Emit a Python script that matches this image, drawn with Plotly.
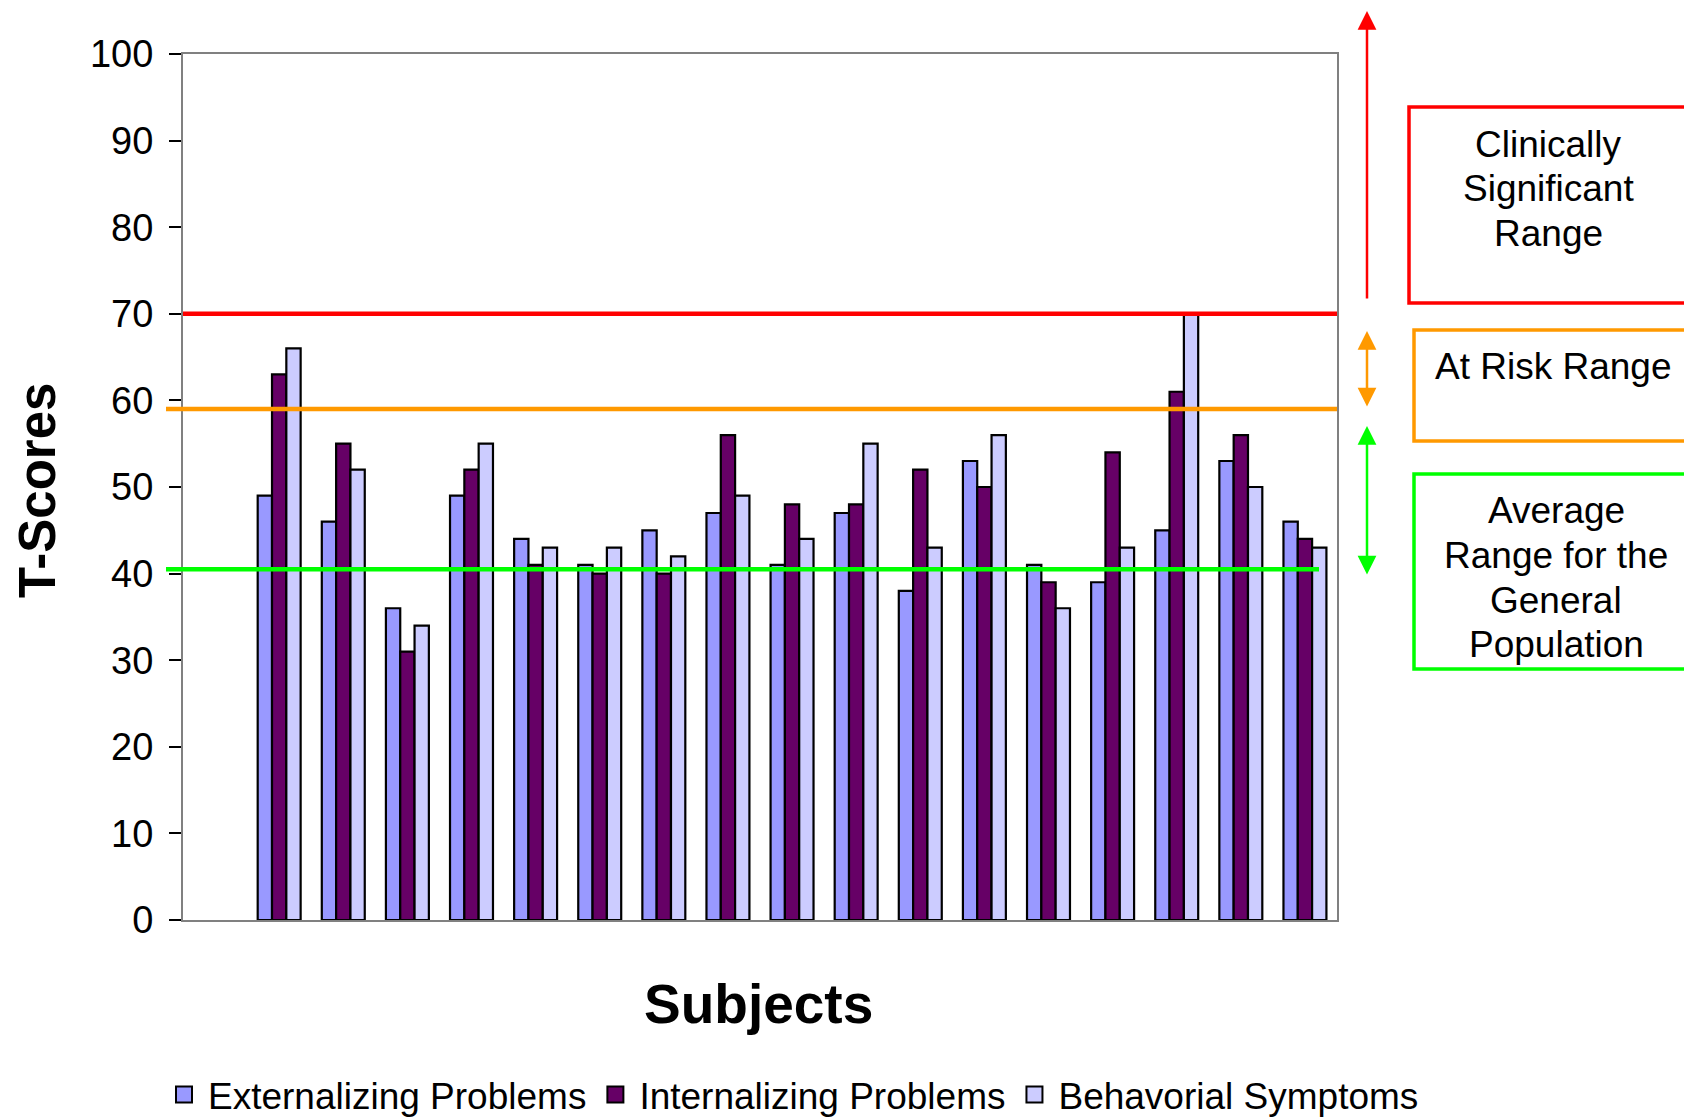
import plotly.graph_objects as go

# ---- data -------------------------------------------------------------
subjects = [f"S{i}" for i in range(1, 18)]
externalizing = [49, 46, 36, 49, 44, 41, 45, 47, 41, 47, 38, 53, 41, 39, 45, 53, 46]
internalizing = [63, 55, 31, 52, 41, 40, 40, 56, 48, 48, 52, 50, 39, 54, 61, 56, 44]
behavioral = [66, 52, 34, 55, 43, 43, 42, 49, 44, 55, 43, 56, 36, 43, 70, 50, 43]

series_names = ["Externalizing Problems", "Internalizing Problems", "Behavorial Symptoms"]
series_colors = ["#9999FF", "#660066", "#CCCCFF"]

clinical_cut = 70
at_risk_cut = 59
average_cut = 40.5
y_ticks = list(range(0, 101, 10))

# ---- page geometry (pixels) -------------------------------------------
WIDTH, HEIGHT = 1684, 1117
L, R, T, B = 183, 1337, 54, 920
PW, PH = R - L, B - T


def px_x(x):
    return (x - L) / PW


def px_y(y):
    return (B - y) / PH


FONT = "Arial, 'Liberation Sans', sans-serif"

fig = go.Figure()
for name, vals, col in zip(series_names, [externalizing, internalizing, behavioral], series_colors):
    fig.add_trace(go.Bar(
        x=subjects, y=vals, name=name, legendgroup=name, showlegend=False,
        marker=dict(color=col, line=dict(color="black", width=2.2)),
    ))
# legend entries with larger square swatches
for name, col in zip(series_names, series_colors):
    fig.add_trace(go.Scatter(
        x=[None], y=[None], mode="markers", name=name, legendgroup=name,
        marker=dict(symbol="square", size=16, color=col,
                    line=dict(color="black", width=2)),
    ))

# threshold lines
fig.add_shape(type="line", xref="paper", yref="y", x0=0, x1=1,
              y0=clinical_cut, y1=clinical_cut, line=dict(color="#FF0000", width=4.5))
fig.add_shape(type="line", xref="paper", yref="y", x0=px_x(166), x1=1,
              y0=at_risk_cut, y1=at_risk_cut, line=dict(color="#FF9900", width=4.5))
fig.add_shape(type="line", xref="paper", yref="y", x0=px_x(166), x1=px_x(1319),
              y0=average_cut, y1=average_cut, line=dict(color="#00FF00", width=4.5))

# range boxes on the right
boxes = [
    ("#FF0000", 1409, 107, 303),
    ("#FF9900", 1414, 330, 441),
    ("#00FF00", 1414, 474, 669),
]
for col, x0, y0, y1 in boxes:
    fig.add_shape(type="rect", xref="paper", yref="paper",
                  x0=px_x(x0), x1=px_x(1700), y0=px_y(y1), y1=px_y(y0),
                  line=dict(color=col, width=3.5), fillcolor="rgba(0,0,0,0)")

# range arrows (tip, tail in page pixels)
arrow_x = px_x(1367)
arrows = [
    ("#FF0000", 11, 300, "end"),
    ("#FF9900", 331, 408, "end+start"),
    ("#00FF00", 426, 576, "end+start"),
]
for col, ytip, ytail, side in arrows:
    fig.add_annotation(xref="paper", yref="paper", axref="pixel", ayref="pixel",
                       x=arrow_x, y=px_y(ytip), ax=0, ay=ytail - ytip,
                       showarrow=True, arrowhead=2, arrowsize=1.5, arrowwidth=2.5,
                       arrowcolor=col, arrowside=side, text="")

# range labels, one annotation per line
label_lines = [
    ("Clinically", 1548, 144), ("Significant", 1548, 189), ("Range", 1548, 234),
    ("At Risk Range", 1553, 367),
    ("Average", 1556, 510), ("Range for the", 1556, 555),
    ("General", 1556, 600), ("Population", 1556, 644),
]
for txt, cx, cy in label_lines:
    fig.add_annotation(xref="paper", yref="paper", x=px_x(cx), y=px_y(cy),
                       text=txt, showarrow=False, xanchor="center", yanchor="middle",
                       font=dict(family=FONT, size=37, color="black"))

# axis titles
fig.add_annotation(xref="paper", yref="paper", x=px_x(38), y=px_y(491),
                   text="<b>T-Scores</b>", textangle=-90, showarrow=False,
                   xanchor="center", yanchor="middle",
                   font=dict(family=FONT, size=51, color="black"))
fig.add_annotation(xref="paper", yref="paper", x=px_x(758), y=px_y(1004),
                   text="<b>Subjects</b>", showarrow=False,
                   xanchor="center", yanchor="middle",
                   font=dict(family=FONT, size=55, color="black"))

fig.update_layout(
    width=WIDTH, height=HEIGHT,
    margin=dict(l=L, r=WIDTH - R, t=T, b=HEIGHT - B, autoexpand=False),
    paper_bgcolor="white", plot_bgcolor="white",
    barmode="group", bargap=0.33, bargroupgap=0,
    font=dict(family=FONT, color="black"),
    showlegend=True,
    legend=dict(orientation="h", x=px_x(160), xanchor="left",
                y=px_y(1095), yanchor="middle", itemwidth=38,
                font=dict(family=FONT, size=37, color="black"),
                bgcolor="rgba(0,0,0,0)"),
)
fig.update_xaxes(type="category", categoryorder="array",
                 categoryarray=[" "] + subjects, range=[-0.5, len(subjects) + 0.5],
                 showticklabels=False, ticks="", showgrid=False, zeroline=False,
                 showline=True, linecolor="#808080", linewidth=2, mirror=True)
fig.update_yaxes(range=[0, 100], tickvals=y_ticks, ticks="outside", ticklen=12,
                 tickwidth=1.5, tickcolor="black", showgrid=False, zeroline=False,
                 showline=True, linecolor="#808080", linewidth=2, mirror=True,
                 tickfont=dict(family=FONT, size=38, color="black"),
                 ticklabelstandoff=8)

fig.write_html("out.html")
